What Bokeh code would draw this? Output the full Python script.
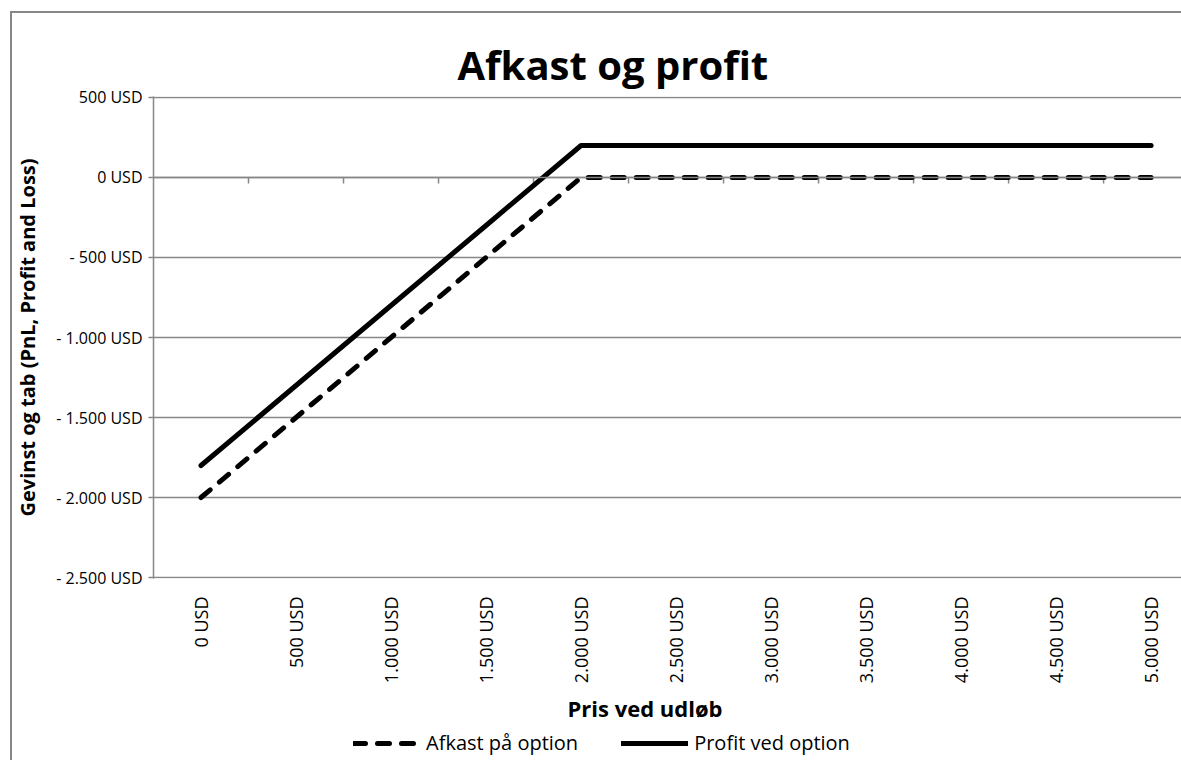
import math
from bokeh.plotting import figure
from bokeh.layouts import column
from bokeh.models import Range1d, FixedTicker, LinearAxis, Legend, LegendItem, Span, Title
from bokeh.embed import file_html
from bokeh.resources import INLINE

# ---- data ----
title_text = "Afkast og profit"
x_title = "Pris ved udløb"
y_title = "Gevinst og tab (PnL, Profit and Loss)"
categories = ["0 USD", "500 USD", "1.000 USD", "1.500 USD", "2.000 USD", "2.500 USD",
              "3.000 USD", "3.500 USD", "4.000 USD", "4.500 USD", "5.000 USD"]
payoff = [-2000, -1500, -1000, -500, 0, 0, 0, 0, 0, 0, 0]
profit = [-1800, -1300, -800, -300, 200, 200, 200, 200, 200, 200, 200]
y_ticks = [-2500, -2000, -1500, -1000, -500, 0, 500]
y_tick_labels = ["- 2.500 USD", "- 2.000 USD", "- 1.500 USD", "- 1.000 USD",
                 "- 500 USD", "0 USD", "500 USD"]
series_names = ["Afkast på option", "Profit ved option"]

GREY = "#878787"
FONT = "Open Sans"

x_idx = list(range(len(categories)))
boundaries = [i + 0.5 for i in x_idx[:-1]]

p = figure(width=1181, height=728, output_backend="svg", toolbar_location=None,
           x_range=Range1d(-0.5, 10.32), y_range=Range1d(-2506, 506),
           x_axis_location=None,
           min_border_left=153, min_border_right=0, min_border_top=96, min_border_bottom=150)

p.border_fill_color = None
p.background_fill_color = "white"
p.outline_line_color = None

# title
p.title.text = title_text
p.title.align = "left"
p.title.offset = 304
p.title.text_font = FONT
p.title.text_font_size = "40px"
p.title.text_font_style = "bold"
p.title.text_color = "black"

# y axis
p.yaxis.ticker = FixedTicker(ticks=y_ticks)
p.yaxis.major_label_overrides = dict(zip(y_ticks, y_tick_labels))
p.yaxis.major_label_text_font = FONT
p.yaxis.major_label_text_font_size = "16px"
p.yaxis.major_label_text_color = "black"
p.yaxis.major_label_standoff = 6
p.yaxis.axis_line_color = GREY
p.yaxis.axis_line_width = 1.5
p.yaxis.major_tick_line_color = GREY
p.yaxis.major_tick_line_width = 1.5
p.yaxis.major_tick_in = 0
p.yaxis.major_tick_out = 5
p.yaxis.minor_tick_line_color = None
p.yaxis.axis_label = y_title
p.yaxis.axis_label_text_font = FONT
p.yaxis.axis_label_text_font_size = "20px"
p.yaxis.axis_label_text_font_style = "bold"
p.yaxis.axis_label_text_color = "black"
p.yaxis.axis_label_standoff = 12

p.xgrid.visible = False
p.ygrid.ticker = FixedTicker(ticks=y_ticks)
p.ygrid.grid_line_color = GREY
p.ygrid.grid_line_width = 1.5

# horizontal category axis line at zero with tick marks between categories
p.add_layout(Span(location=0, dimension="width", line_color=GREY, line_width=1.5))
p.segment(x0=boundaries, y0=[0] * len(boundaries), x1=boundaries, y1=[-38] * len(boundaries),
          line_color=GREY, line_width=1.5)

axis_labels = LinearAxis(ticker=FixedTicker(ticks=x_idx),
                         major_label_overrides={i: c for i, c in zip(x_idx, categories)},
                         axis_line_color=None, major_tick_line_color=None,
                         major_tick_in=0, major_tick_out=0,
                         minor_tick_line_color=None,
                         major_label_orientation=math.pi / 2,
                         major_label_text_font=FONT, major_label_text_font_size="18px",
                         major_label_text_color="black", major_label_standoff=18)
p.add_layout(axis_labels, "below")

x_label = Title(text=x_title, align="left", offset=414, text_font=FONT,
                text_font_size="22px", text_font_style="bold", text_color="black",
                standoff=8)
p.add_layout(x_label, "below")

p.line(x_idx, payoff, line_color="black", line_width=5, line_dash="12 12", line_cap="round")
p.line(x_idx, profit, line_color="black", line_width=5, line_cap="round")

# legend strip below the chart (keys reuse the series, drawn outside the strip's view)
leg = figure(width=1181, height=32, output_backend="svg", toolbar_location=None,
             x_range=Range1d(0, 1), y_range=Range1d(10000, 10001),
             x_axis_location=None, y_axis_location=None,
             min_border_left=0, min_border_right=0, min_border_top=0, min_border_bottom=0)
leg.grid.visible = False
leg.border_fill_color = None
leg.background_fill_color = None
leg.outline_line_color = None
k1 = leg.line(x_idx, payoff, line_color="black", line_width=5, line_dash="12 12",
              line_cap="round")
k2 = leg.line(x_idx, profit, line_color="black", line_width=5, line_cap="round")
legend = Legend(items=[LegendItem(label=series_names[0], renderers=[k1]),
                       LegendItem(label=series_names[1], renderers=[k2])],
                orientation="horizontal", location=(200, 4),
                glyph_width=67, glyph_height=22, label_standoff=6, spacing=43,
                padding=0, margin=0, border_line_color=None, background_fill_alpha=0,
                label_text_font=FONT, label_text_font_size="20px", label_text_color="black")
leg.add_layout(legend)

layout = column(p, leg, spacing=0,
                styles={"box-shadow": "inset 10px 11px 0 0 white, inset 12px 13px 0 0 #878787"})

open("out.html", "w").write(file_html(layout, INLINE))
